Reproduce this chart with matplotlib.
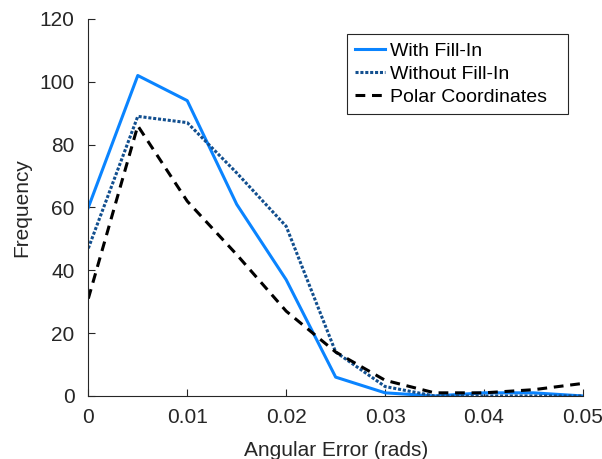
import matplotlib
matplotlib.use('Agg')
import matplotlib.pyplot as plt
import numpy as np

plt.rcParams['font.family'] = ['Liberation Sans', 'DejaVu Sans']

# angular error bins (rads) and counts per method
err_bins = [0, 0.005, 0.01, 0.015, 0.02, 0.025, 0.03, 0.035, 0.04, 0.045, 0.05]
with_fill = [60, 102, 94, 61, 37, 6, 1, 0, 1, 1, 0]
without_fill = [47, 89, 87, 71, 54, 14, 3, 0, 0, 0, 0]
polar = [31, 86, 62, 45, 27, 14, 5, 1, 1, 2, 4]

fig = plt.figure(figsize=(6.02, 4.59), dpi=100)
ax = fig.add_axes([0.1467, 0.1373, 0.8217, 0.8214])

ax.plot(err_bins, with_fill, color='#0a84ff', lw=2.2, label='With Fill-In')
ax.plot(err_bins, without_fill, color='#124f8f', lw=2.2, ls=(0, (1, 0.6)),
        label='Without Fill-In')
ax.plot(err_bins, polar, color='black', lw=2.2, ls=(0, (3.2, 2.2)),
        label='Polar Coordinates')

ax.set_xlim(0, 0.05)
ax.set_ylim(0, 120)
ax.set_xticks([0, 0.01, 0.02, 0.03, 0.04, 0.05])
ax.set_xticklabels(['0', '0.01', '0.02', '0.03', '0.04', '0.05'])
ax.set_yticks(range(0, 121, 20))

for s in ['top', 'right']:
    ax.spines[s].set_visible(False)
for s in ['left', 'bottom']:
    ax.spines[s].set_color('#262626')
    ax.spines[s].set_linewidth(0.8)
ax.tick_params(direction='in', length=5, width=0.8, color='#262626',
               labelsize=15, labelcolor='#262626')
ax.tick_params(axis='x', pad=8.5)
ax.tick_params(axis='y', pad=10)

ax.set_xlabel('Angular Error (rads)', fontsize=15, color='#262626', labelpad=10)
ax.set_ylabel('Frequency', fontsize=15, color='#262626', labelpad=6)

# MATLAB-like legend box: wide frame with extra room right of the text
leg = ax.legend(loc='upper left', bbox_to_anchor=(0.523, 0.5, 0.447, 0.46),
                mode='expand', borderaxespad=0,
                fontsize=14, fancybox=False, edgecolor='#262626', framealpha=1,
                handlelength=1.55, handletextpad=0.26, labelspacing=0.28,
                borderpad=0.42)
leg.get_frame().set_linewidth(0.8)

fig.savefig('out.png', dpi=100, facecolor='white')
